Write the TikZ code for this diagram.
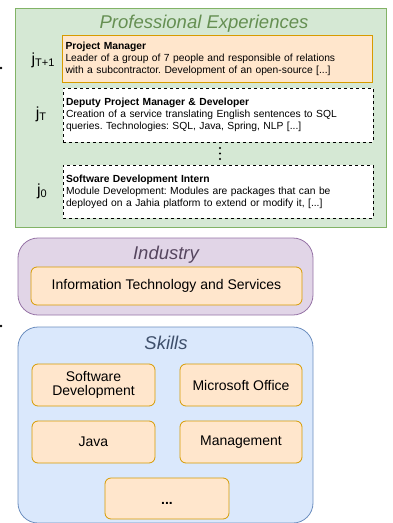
\documentclass[tikz,border=0pt]{standalone}
\usepackage{fontspec}
\setmainfont{Liberation Sans}
\usepackage{tikz}
\usetikzlibrary{positioning}
\definecolor{grnfill}{HTML}{D5E8D4}
\definecolor{grnline}{HTML}{82B366}
\definecolor{grntext}{HTML}{658F52}
\definecolor{orgfill}{HTML}{FFE6CC}
\definecolor{orgline}{HTML}{D79B00}
\definecolor{purfill}{HTML}{E1D5E7}
\definecolor{purline}{HTML}{9673A6}
\definecolor{purtext}{HTML}{56465F}
\definecolor{blufill}{HTML}{DAE8FC}
\definecolor{bluline}{HTML}{6C8EBF}
\definecolor{blutext}{HTML}{3E4F6B}
\newcommand{\jlabel}[1]{{\fontsize{16}{16}\selectfont j}\raisebox{-2.5pt}{\fontsize{11}{11}\selectfont #1}}
\frenchspacing
\begin{document}
\begin{tikzpicture}[x=1pt,y=-1pt,
    grpbox/.style={draw=#1line, fill=#1fill, line width=0.8pt, inner sep=0pt},
    grptitle/.style={anchor=base, font=\fontsize{18.5}{20}\selectfont\itshape},
    expbox/.style={draw, dashed, fill=white, line width=0.6pt, text width=304pt, inner xsep=3pt, inner ysep=0pt,
        minimum width=310pt, align=left, font=\fontsize{10.3}{12}\selectfont},
    skillbox/.style={draw=orgline, fill=orgfill, line width=0.8pt, rounded corners=6pt, align=center,
        font=\fontsize{14}{16}\selectfont, inner sep=0pt},
    jlab/.style={anchor=base}]
\useasboundingbox (0,0) rectangle (393,523);

\node[grpbox=grn, minimum width=371pt, minimum height=219pt] (prof) at (200.5,117.5) {};
\node[grptitle, text=grntext] (proftitle) at (204,28.5) {Professional Experiences};

\node[expbox, solid, draw=orgline, fill=orgfill, line width=0.8pt, minimum height=47pt] (exp1) at (217.5,58.5)
    {\textbf{Project Manager}\\Leader of a group of 7 people and responsible of relations\\with a subcontractor. Development of an open-source [...]};
\node[expbox, minimum height=54pt] (exp2) at (218,115)
    {\textbf{Deputy Project Manager \& Developer}\\Creation of a service translating English sentences to SQL\\queries. Technologies: SQL, Java, Spring, NLP [...]};
\node[expbox, minimum height=53pt] (exp3) at (218,191.5)
    {\textbf{Software Development Intern}\\Module Development: Modules are packages that can be\\deployed on a Jahia platform to extend or modify it, [...]};
\foreach \y in {148,153.5,159}
    \fill (220,\y) circle (1.1pt);

\node[jlab] (j1) at (43,64) {\jlabel{T+1}};
\node[jlab] (j2) at (41,118) {\jlabel{T}};
\node[jlab] (j3) at (42,195) {\jlabel{0}};

\node[grpbox=pur, rounded corners=20pt, minimum width=295pt, minimum height=77pt] (ind) at (165.5,276.5) {};
\node[grptitle, text=purtext] (indtitle) at (166,259) {Industry};
\node[skillbox, minimum width=271pt, minimum height=38pt] (indval) at (166.5,286) {Information Technology and Services};

\node[grpbox=blu, rounded corners=20pt, minimum width=295pt, minimum height=196pt] (skills) at (165.5,425) {};
\node[grptitle, text=blutext] (skilltitle) at (166,349) {Skills};
\node[skillbox, minimum width=123pt, minimum height=42pt] (sk1) at (93.5,385) {Software\\[-2pt]Development};
\node[skillbox, minimum width=122pt, minimum height=42pt] (sk2) at (241,385) {Microsoft Office};
\node[skillbox, minimum width=123pt, minimum height=42pt] (sk3) at (93.5,442) {Java};
\node[skillbox, minimum width=122pt, minimum height=42pt] (sk4) at (241,442) {Management};
\node[skillbox, minimum width=124pt, minimum height=41pt, text height=12pt, text depth=0pt] (sk5) at (167,498.5) {\textbf{...}};

\fill (1,68) circle (1.3pt);
\fill (1,326) circle (1.3pt);
\end{tikzpicture}
\end{document}
